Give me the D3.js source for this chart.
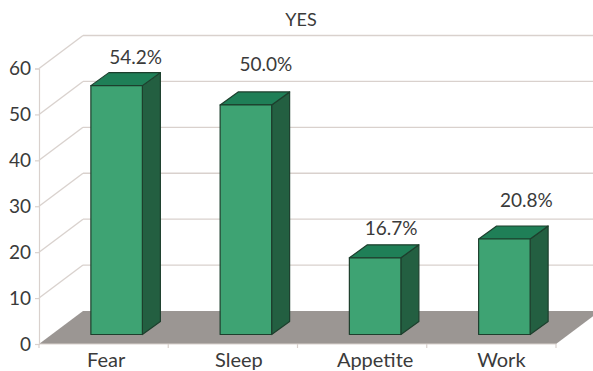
<!DOCTYPE html>
<html>
<head>
<meta charset="utf-8">
<script src="https://cdn.jsdelivr.net/npm/d3@7"></script>
<style>
html,body{margin:0;padding:0;background:#fff;overflow:hidden}
text{font-family:Lato,"Open Sans",sans-serif;fill:#3a3a3a}
</style>
</head>
<body>
<script>
const categories = ["Fear", "Sleep", "Appetite", "Work"];
const values = [54.2, 50.0, 16.7, 20.8];
const valueLabels = ["54.2%", "50.0%", "16.7%", "20.8%"];
const yTicks = [0, 10, 20, 30, 40, 50, 60];
const chartTitle = "YES";

const width = 593, height = 371;
const svg = d3.select("body").append("svg")
  .attr("width", width).attr("height", height)
  .style("display", "block");

// Oblique projection: the walls recede up and to the right
const wallDx = 44, wallDy = -33;
const barInsetX = 13, barInsetY = -9.5;
const barDepthX = 18, barDepthY = -13;
const barWidth = 51.5;

const x = d3.scaleBand().domain(categories).range([39, 556]);
const y = d3.scaleLinear().domain([0, 60]).range([344, 68.5]);

const gridColor = "#d9d1cd";

// Floor
svg.append("polygon")
  .attr("fill", "#9b9693")
  .attr("points", [
    [x.range()[0], y(0)],
    [x.range()[1], y(0)],
    [x.range()[1] + wallDx, y(0) + wallDy],
    [x.range()[0] + wallDx, y(0) + wallDy]
  ].join(" "));

// Back-wall gridlines and their diagonals along the side wall
const grid = svg.append("g").attr("fill", "none").attr("stroke", gridColor).attr("stroke-width", 1.3);
grid.selectAll("line.back").data(yTicks.slice(1)).join("line")
  .attr("class", "back")
  .attr("x1", 39 + wallDx).attr("x2", width)
  .attr("y1", d => y(d) + wallDy).attr("y2", d => y(d) + wallDy);
grid.selectAll("line.side").data(yTicks.slice(1)).join("line")
  .attr("class", "side")
  .attr("x1", 39).attr("x2", 39 + wallDx)
  .attr("y1", d => y(d)).attr("y2", d => y(d) + wallDy);

// Value axis
const yAxis = svg.append("g").attr("transform", "translate(39,0)").call(
  d3.axisLeft(y).tickValues(yTicks).tickSize(4).tickPadding(4)
);
yAxis.selectAll("path,line").attr("stroke", gridColor).attr("stroke-width", 1.2);
yAxis.selectAll("text").attr("font-size", 19).attr("dy", "0.34em").style("font-family", "Lato");

// Category axis: front floor edge with separators between groups
const baseline = svg.append("g").attr("stroke", gridColor).attr("stroke-width", 1.2);
baseline.append("line")
  .attr("x1", x.range()[0]).attr("x2", x.range()[1])
  .attr("y1", y(0)).attr("y2", y(0));
baseline.selectAll("line.sep")
  .data(categories.map(c => x(c)).concat(x.range()[1])).join("line")
  .attr("class", "sep")
  .attr("x1", d => d).attr("x2", d => d)
  .attr("y1", y(0)).attr("y2", y(0) + 4);

// Category names are placed by hand under their groups
const categoryNudge = [2.5, 6, 13, 10];
svg.selectAll("text.cat").data(categories).join("text")
  .attr("class", "cat")
  .attr("x", (d, i) => x(d) + x.bandwidth() / 2 + categoryNudge[i])
  .attr("y", 367)
  .attr("text-anchor", "middle")
  .attr("font-size", 20)
  .text(d => d);

// Bars: each has a front, a top and a right-hand side
const rows = categories.map((c, i) => ({ c, v: values[i], label: valueLabels[i] }));
const bars = svg.selectAll("g.bar").data(rows).join("g").attr("class", "bar")
  .attr("stroke", "#1d3f2d").attr("stroke-width", 1.2).attr("stroke-linejoin", "round");

const barLeft = d => x(d.c) + x.bandwidth() / 2 - barWidth / 2 + barInsetX;
const barBase = () => y(0) + barInsetY;
const barTop = d => y(d.v) + barInsetY;

bars.append("polygon").attr("fill", "#235f41").attr("points", d => {
  const r = barLeft(d) + barWidth;
  return [[r, barTop(d)], [r + barDepthX, barTop(d) + barDepthY],
          [r + barDepthX, barBase() + barDepthY], [r, barBase()]].join(" ");
});
bars.append("polygon").attr("fill", "#1f7f57").attr("points", d => {
  const l = barLeft(d), r = l + barWidth;
  return [[l, barTop(d)], [r, barTop(d)],
          [r + barDepthX, barTop(d) + barDepthY], [l + barDepthX, barTop(d) + barDepthY]].join(" ");
});
bars.append("rect").attr("fill", "#3ea373")
  .attr("x", barLeft).attr("width", barWidth)
  .attr("y", barTop).attr("height", d => barBase() - barTop(d));

// Value labels sit above each bar, nudged by hand
const labelNudge = [[19, -9], [20, -21], [16, -10], [22, -19]];
svg.selectAll("text.val").data(rows).join("text")
  .attr("class", "val")
  .attr("x", (d, i) => barLeft(d) + barWidth / 2 + labelNudge[i][0])
  .attr("y", (d, i) => barTop(d) + barDepthY + labelNudge[i][1])
  .attr("text-anchor", "middle")
  .attr("font-size", 19)
  .text(d => d.label);

svg.append("text")
  .attr("x", 301).attr("y", 26)
  .attr("text-anchor", "middle")
  .attr("font-size", 18)
  .text(chartTitle);
</script>
</body>
</html>
